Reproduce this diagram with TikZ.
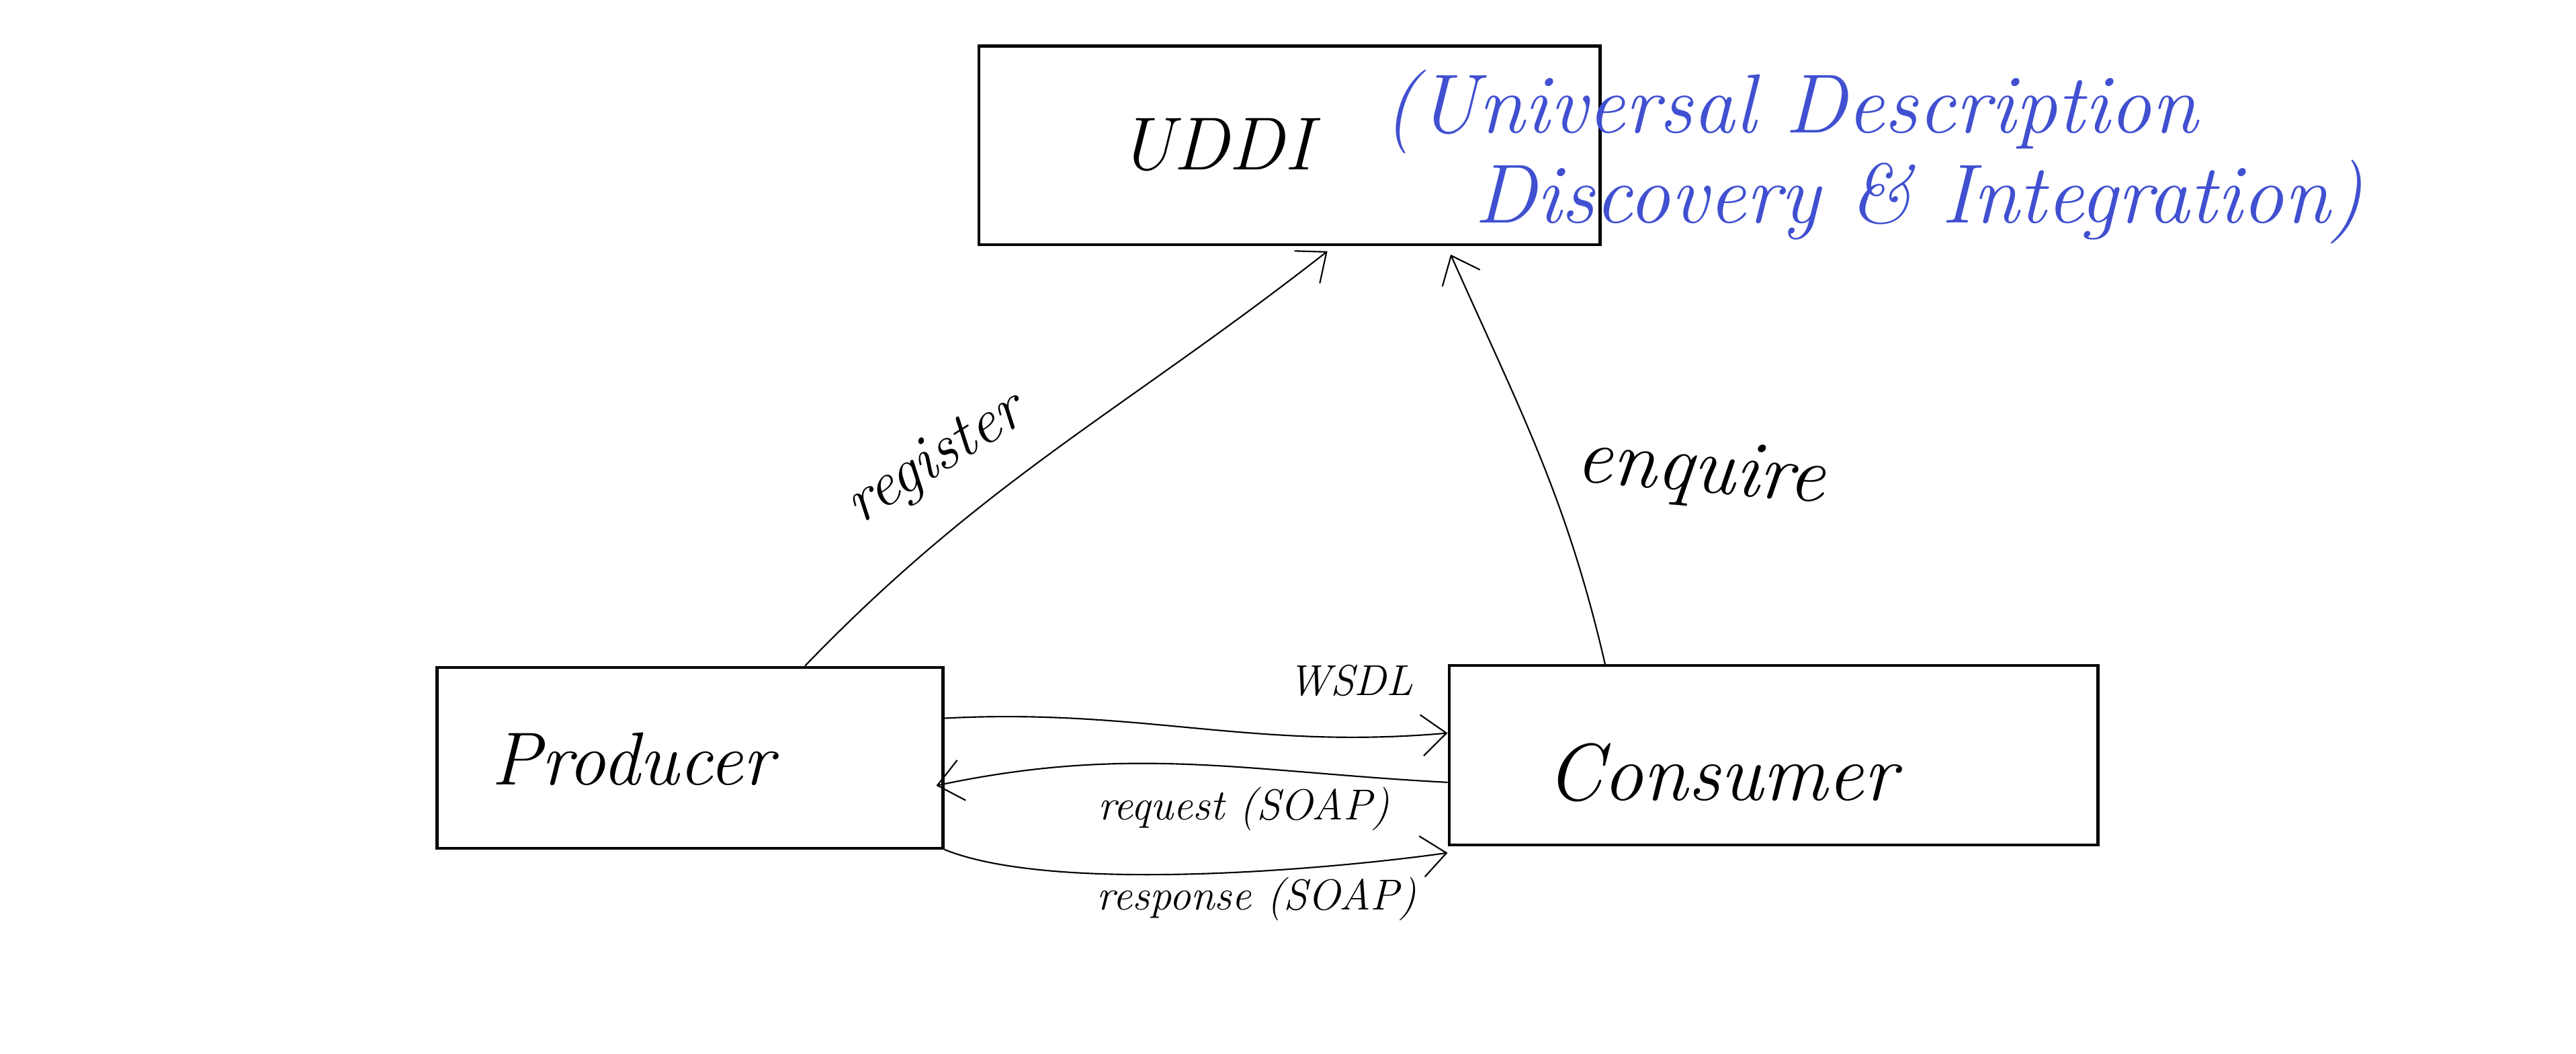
\documentclass[tikz,border=0pt]{standalone}
\usetikzlibrary{arrows.meta}
\definecolor{penblue}{RGB}{64,80,208}
\tikzset{
  box/.style={draw,line width=1pt,inner sep=0pt},
  boxtext/.style={font=\fontsize{26}{30}\selectfont\itshape},
  lbl/.style={font=\fontsize{15}{18}\selectfont\itshape},
  note/.style={text=penblue,font=\fontsize{29}{33}\selectfont\itshape},
  link/.style={line width=0.5pt,->}
}
\begin{document}
\begin{tikzpicture}[>={Straight Barb[length=3mm,width=5mm]}]
	\useasboundingbox (0,0) rectangle (31.36,12.82);
	% boxes
	\node[box,minimum width=7.56cm,minimum height=2.42cm] (uddi) at (15.70,11.05) {};
	\node[box,minimum width=6.16cm,minimum height=2.20cm] (prod) at (8.40,3.60) {};
	\node[box,minimum width=7.90cm,minimum height=2.18cm] (cons) at (21.59,3.63) {};
	\node[boxtext] (uddiname) at (14.80,11.06) {UDDI};
	\node[boxtext] (prodname) at (7.70,3.58) {Producer};
	\node[boxtext,font=\fontsize{28}{32}\selectfont\itshape] (consname) at (20.96,3.42) {Consumer};
	% blue note
	\node[note] (full1) at (21.80,11.46) {(Universal Description};
	\node[note] (full2) at (23.36,10.36) {Discovery \& Integration)};
	% links
	\draw[link] ([xshift=1.4cm]prod.north) to[out=46,in=-142] ([xshift=0.46cm,yshift=-0.06cm]uddi.south);
	\draw[link] ([xshift=-2.05cm]cons.north) to[out=103,in=-66] ([xshift=1.96cm,yshift=-0.1cm]uddi.south);
	\draw[link] ([yshift=0.48cm]prod.east) to[out=3,in=-175] ([yshift=0.27cm]cons.west);
	\draw[link] ([yshift=-0.33cm]cons.west) to[out=177,in=12] ([yshift=-0.34cm,xshift=-0.1cm]prod.east);
	\draw[link] (prod.south east) to[out=-22,in=188,looseness=0.6] ([yshift=-0.08cm]cons.south west);
	% link labels
	\node[rotate=32,font=\fontsize{22}{26}\selectfont\itshape] (reglbl) at (11.40,7.22) {register};
	\node[boxtext,font=\fontsize{28}{32}\selectfont\itshape,rotate=-5] (enqlbl) at (20.70,7.06) {enquire};
	\node[lbl] (wsdllbl) at (16.44,4.54) {WSDL};
	\node[lbl] (reqlbl) at (15.14,2.98) {request (SOAP)};
	\node[lbl] (reslbl) at (15.30,1.88) {response (SOAP)};
\end{tikzpicture}
\end{document}
